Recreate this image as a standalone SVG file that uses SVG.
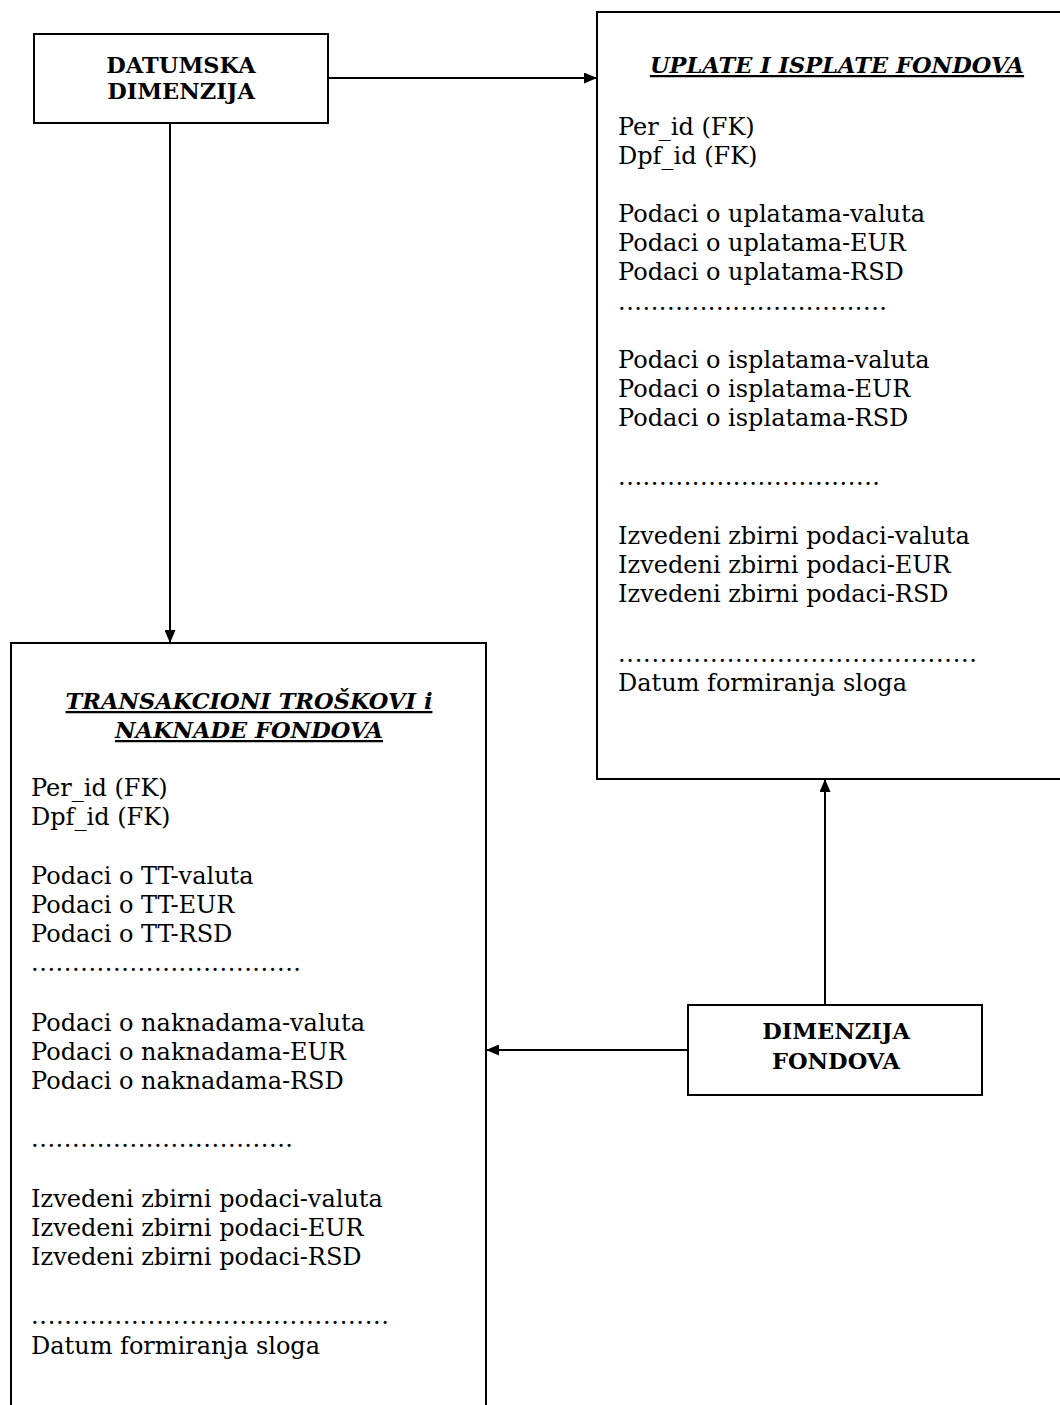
<svg xmlns="http://www.w3.org/2000/svg" width="1060" height="1405" viewBox="0 0 1060 1405">
  <defs>
    <marker id="arrow" viewBox="0 0 13 11" refX="13" refY="5.5" markerWidth="13" markerHeight="11" markerUnits="userSpaceOnUse" orient="auto">
      <path d="M0,0 L13,5.5 L0,11 Z" fill="#000"/>
    </marker>
    <style>
      .box { fill: #fff; stroke: #000; stroke-width: 2; }
      .edge { fill: none; stroke: #000; stroke-width: 2; marker-end: url(#arrow); }
      .lbl { font-family: "DejaVu Serif", "Liberation Serif", serif; font-size: 22.5px; font-weight: bold; text-anchor: middle; fill: #000; }
      .ttl { font-family: "DejaVu Serif", "Liberation Serif", serif; font-size: 22.5px; font-weight: bold; font-style: italic; text-decoration: underline; text-anchor: middle; fill: #000; }
      .row { font-family: "DejaVu Serif", "Liberation Serif", serif; font-size: 24px; fill: #000; }
    </style>
  </defs>
  <rect width="1060" height="1405" fill="#fff"/>

  <!-- fact table: payments in / out -->
  <g id="uplate-isplate">
    <rect class="box" x="597" y="12" width="480" height="767"/>
    <text class="ttl" x="837" y="73">UPLATE I ISPLATE FONDOVA</text>
    <text class="row" x="618" y="135">Per_id (FK)</text>
    <text class="row" x="618" y="164">Dpf_id (FK)</text>
    <text class="row" x="618" y="222">Podaci o uplatama-valuta</text>
    <text class="row" x="618" y="251">Podaci o uplatama-EUR</text>
    <text class="row" x="618" y="280">Podaci o uplatama-RSD</text>
    <text class="row" x="618" y="310" textLength="269" lengthAdjust="spacing">.................................</text>
    <text class="row" x="618" y="368">Podaci o isplatama-valuta</text>
    <text class="row" x="618" y="397">Podaci o isplatama-EUR</text>
    <text class="row" x="618" y="426">Podaci o isplatama-RSD</text>
    <text class="row" x="618" y="485" textLength="262" lengthAdjust="spacing">................................</text>
    <text class="row" x="618" y="544">Izvedeni zbirni podaci-valuta</text>
    <text class="row" x="618" y="573">Izvedeni zbirni podaci-EUR</text>
    <text class="row" x="618" y="602">Izvedeni zbirni podaci-RSD</text>
    <text class="row" x="618" y="662" textLength="359" lengthAdjust="spacing">...........................................</text>
    <text class="row" x="618" y="691">Datum formiranja sloga</text>
  </g>

  <!-- fact table: transaction costs and fees -->
  <g id="transakcioni-troskovi">
    <rect class="box" x="11" y="643" width="475" height="790"/>
    <text class="ttl" x="249" y="709">TRANSAKCIONI TROŠKOVI i</text>
    <text class="ttl" x="249" y="738">NAKNADE FONDOVA</text>
    <text class="row" x="31" y="796">Per_id (FK)</text>
    <text class="row" x="31" y="825">Dpf_id (FK)</text>
    <text class="row" x="31" y="884">Podaci o TT-valuta</text>
    <text class="row" x="31" y="913">Podaci o TT-EUR</text>
    <text class="row" x="31" y="942">Podaci o TT-RSD</text>
    <text class="row" x="31" y="971" textLength="270" lengthAdjust="spacing">.................................</text>
    <text class="row" x="31" y="1031">Podaci o naknadama-valuta</text>
    <text class="row" x="31" y="1060">Podaci o naknadama-EUR</text>
    <text class="row" x="31" y="1089">Podaci o naknadama-RSD</text>
    <text class="row" x="31" y="1147" textLength="262" lengthAdjust="spacing">................................</text>
    <text class="row" x="31" y="1207">Izvedeni zbirni podaci-valuta</text>
    <text class="row" x="31" y="1236">Izvedeni zbirni podaci-EUR</text>
    <text class="row" x="31" y="1265">Izvedeni zbirni podaci-RSD</text>
    <text class="row" x="31" y="1324" textLength="358" lengthAdjust="spacing">...........................................</text>
    <text class="row" x="31" y="1354">Datum formiranja sloga</text>
  </g>

  <!-- date dimension -->
  <g id="datumska-dimenzija">
    <rect class="box" x="34" y="34" width="294" height="89"/>
    <text class="lbl" x="181" y="73">DATUMSKA</text>
    <text class="lbl" x="181" y="99">DIMENZIJA</text>
  </g>

  <!-- fund dimension -->
  <g id="dimenzija-fondova">
    <rect class="box" x="688" y="1005" width="294" height="90"/>
    <text class="lbl" x="836" y="1039">DIMENZIJA</text>
    <text class="lbl" x="836" y="1069">FONDOVA</text>
  </g>

  <g id="connectors">
    <line class="edge" x1="328" y1="78" x2="597" y2="78"/>
    <line class="edge" x1="170" y1="123" x2="170" y2="643"/>
    <line class="edge" x1="688" y1="1050" x2="486" y2="1050"/>
    <line class="edge" x1="825" y1="1005" x2="825" y2="779"/>
  </g>
</svg>
